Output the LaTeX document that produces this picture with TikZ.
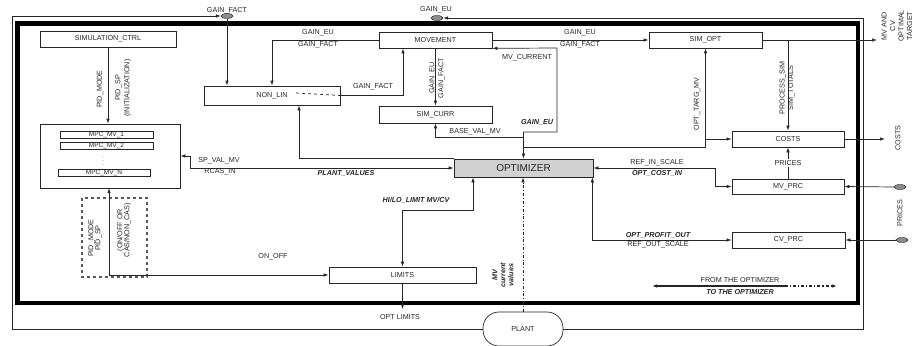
\documentclass[tikz,border=0pt]{standalone}
\usepackage{fontspec}
\setmainfont{Liberation Sans}
\usetikzlibrary{arrows.meta,shapes.geometric}

\begin{document}
\begin{tikzpicture}[x=1pt,y=-1pt,
    every node/.style={font=\fontsize{7.2}{8}\selectfont, text=black!85},
    blk/.style={draw=black!85, line width=0.7pt, minimum height=16pt, inner sep=0pt},
    wire/.style={draw=black!85, line width=0.7pt},
    arr/.style={wire, -{Latex[length=5pt,width=3.5pt]}},
    arrboth/.style={wire, {Latex[length=5pt,width=3.5pt]}-{Latex[length=5pt,width=3.5pt]}},
    bi/.style={font=\fontsize{7.2}{8}\selectfont\bfseries\itshape},
    port/.style={ellipse, draw=black!85, fill=black!45, minimum width=12pt, minimum height=5pt, inner sep=0pt}]
    \useasboundingbox (0,0) rectangle (917,345);

    % Frames
    \draw[line width=4.5pt] (17.5,23.5) rectangle (858,303);
    \node[port] (gfport) at (227,16) {};
    \node[port] (geport) at (437,18) {};
    \node at (227,10.5) {GAIN\_FACT};
    \node at (436,10) {GAIN\_EU};

    % Blocks
    \node[blk, minimum width=136pt] (simctrl) at (108,39) {SIMULATION\_CTRL};
    \node[blk, minimum width=136pt, minimum height=19pt] (nonlin) at (272,95.5) {NON\_LIN};
    \node[blk, minimum width=113pt] (movement) at (435.5,40) {MOVEMENT};
    \node[blk, minimum width=113pt, minimum height=17pt] (simcurr) at (435.5,114.5) {SIM\_CURR};
    \node[blk, minimum width=113pt] (simopt) at (705.5,40) {SIM\_OPT};
    \node[blk, minimum width=112pt] (costs) at (788,139) {COSTS};
    \node[blk, minimum width=112pt, minimum height=15pt] (mvprc) at (788,186.5) {MV\_PRC};
    \node[blk, minimum width=113pt] (cvprc) at (788.5,240) {CV\_PRC};
    \node[blk, minimum width=139pt, minimum height=18pt, fill=black!18,
        font=\fontsize{10}{11}\selectfont] (optimizer) at (523.5,168) {OPTIMIZER};
    \node[blk, minimum width=147pt] (limits) at (402.5,275) {LIMITS};
    \node[blk, minimum width=80pt, minimum height=34pt, rounded corners=16pt, fill=white] (plant) at (523,329) {PLANT};

    % MPC controllers
    \node[blk, minimum width=140pt, minimum height=64pt] (mpc) at (110,156) {};
    \node[blk, minimum width=93pt, minimum height=7pt, font=\fontsize{6.5}{6}\selectfont] (mpcone) at (106.5,134.5) {MPC\_MV\_1};
    \node[blk, minimum width=93pt, minimum height=7pt, font=\fontsize{6.5}{6}\selectfont] (mpctwo) at (106.5,145.5) {MPC\_MV\_2};
    \node[font=\fontsize{6}{6}\selectfont] (mpcdots) at (103,158) {$\vdots$};
    \node[blk, minimum width=92pt, minimum height=7pt, font=\fontsize{6.5}{6}\selectfont] (mpcn) at (104,172.5) {MPC\_MV\_N};
    \draw[dashed, line width=1.1pt, black!65] (82,198) rectangle (147,277);

    % Outer loop through the plant
    \draw[arr] (plant.west) -| (12,16) -- (gfport.west);
    \draw[arr] (plant.east) -| (863,18) -- (geport.east);

    % Connectors
    \draw[arr] (gfport.south) -- (gfport.south |- nonlin.north);
    \draw[arr] (movement.west) -| (nonlin.north);
    \node at (318,33) {GAIN\_EU};
    \node at (318,45) {GAIN\_FACT};
    \draw[arr] (nonlin.east) -| ([xshift=-32.5pt]movement.south);
    \draw[wire, dashed] (296,93) -- (nonlin.east);
    \node at (373,87) {GAIN\_FACT};
    \draw[arr] (movement.south) -- (simcurr.north);
    \node[rotate=90, align=center, font=\fontsize{7.2}{9}\selectfont] at (437,78) {GAIN\_EU\\GAIN\_FACT};
    \draw[arr] (movement.east) -- (simopt.west);
    \node at (580,33) {GAIN\_EU};
    \node at (580,45) {GAIN\_FACT};
    \draw[arrboth] (movement.south east) -- (557,48) -- (557,132) -| (optimizer.north);
    \node at (527,58) {MV\_CURRENT};
    \node[bi] at (537,122) {GAIN\_EU};
    \draw[arr] (523.5,137) -| (simcurr.south);
    \node at (475,131.5) {BASE\_VAL\_MV};
    \draw[arr] (523.5,147) -| (simopt.south);
    \node[rotate=90] at (697,104) {OPT\_TARG\_MV};
    \draw[arr] (705.5,139) -- (costs.west);
    \draw[arr] (simopt.east) -- (877,40);
    \node[rotate=90, align=center, font=\fontsize{7.2}{8.5}\selectfont] at (897,26) {MV AND\\CV\\OPTIMAL\\TARGET};
    \draw[arr] (788,40) -- (costs.north);
    \node[rotate=90, align=center, font=\fontsize{7.2}{8.5}\selectfont] at (787,88) {PROCESS\_SIM\\SIM\_TOTALS};
    \draw[arr] (costs.east) -- (885,139);
    \node[rotate=90] at (898,138) {COSTS};
    \node[port] (mvport) at (900,187) {};
    \node[port] (cvport) at (902,240) {};
    \draw[arr] (mvport.west) -- (mvprc.east);
    \draw[arr] (cvport.west) -- (cvprc.east);
    \node[rotate=90] at (900,213) {PRICES};
    \draw[arr] (mvprc.north) -- (costs.south);
    \node[fill=white, inner sep=1pt] at (788,163) {PRICES};
    \draw[arrboth] (optimizer.east) -- (715,168) |- (mvprc.west);
    \node at (657,163) {REF\_IN\_SCALE};
    \node[bi] at (657,173) {OPT\_COST\_IN};
    \draw[arrboth] ([xshift=-1pt]optimizer.south east) |- (cvprc.west);
    \node[bi] at (658,235) {OPT\_PROFIT\_OUT};
    \node at (658,245) {REF\_OUT\_SCALE};
    \draw[arrboth] (mpc.east) -- (190,156) |- (optimizer.west);
    \node at (219,161) {SP\_VAL\_MV};
    \node at (220,172) {RCAS\_IN};
    \node[bi] at (346,173) {PLANT\_VALUES};
    \draw[arr] (optimizer.north west) -| ([xshift=27pt]nonlin.south);
    \draw[arrboth] ([xshift=-50.5pt]optimizer.south) |- (402.5,210) -- (limits.north);
    \node[bi] at (416,200) {HI/LO\_LIMIT MV/CV};
    \draw[wire, dash dot, -{Latex[length=5pt,width=3.5pt]}] (plant.north) -- (plant.north |- optimizer.south);
    \node[bi, rotate=90, align=center, font=\fontsize{7.2}{8}\selectfont\bfseries\itshape] at (503,275) {MV\\current\\values};
    \draw[arr] (limits.south) -- (402.5,309);
    \node at (400,317) {OPT LIMITS};
    \draw[arr] (simctrl.south) -- (simctrl.south |- mpc.north);
    \node[rotate=90] at (100,89) {PID\_MODE};
    \node[rotate=90, align=center, font=\fontsize{7.2}{9}\selectfont] at (123,88) {PID\_SP\\(INITIALIZATION)};
    \draw[arrboth] (109,188) -- (109,275) -- (limits.west);
    \node[rotate=90, align=center, font=\fontsize{7.2}{7}\selectfont] at (95,238) {PID\_MODE\\PID\_SP};
    \node[rotate=90, align=center, font=\fontsize{7.2}{7}\selectfont] at (124,230) {(ON/OFF OR\\CAS/NON\_CAS)};
    \node at (273,257) {ON\_OFF};

    % Legend
    \coordinate (lgl) at (652,286);
    \coordinate (lgm) at (785,286);
    \coordinate (lgr) at (837,286);
    \draw[arr, line width=1.3pt] (lgm) -- (lgl);
    \draw[arr, line width=1.1pt, dash dot] (lgm) -- (lgr);
    \node at (740,280) {FROM THE OPTIMIZER};
    \node[bi] at (740,292) {TO THE OPTIMIZER};
\end{tikzpicture}
\end{document}
